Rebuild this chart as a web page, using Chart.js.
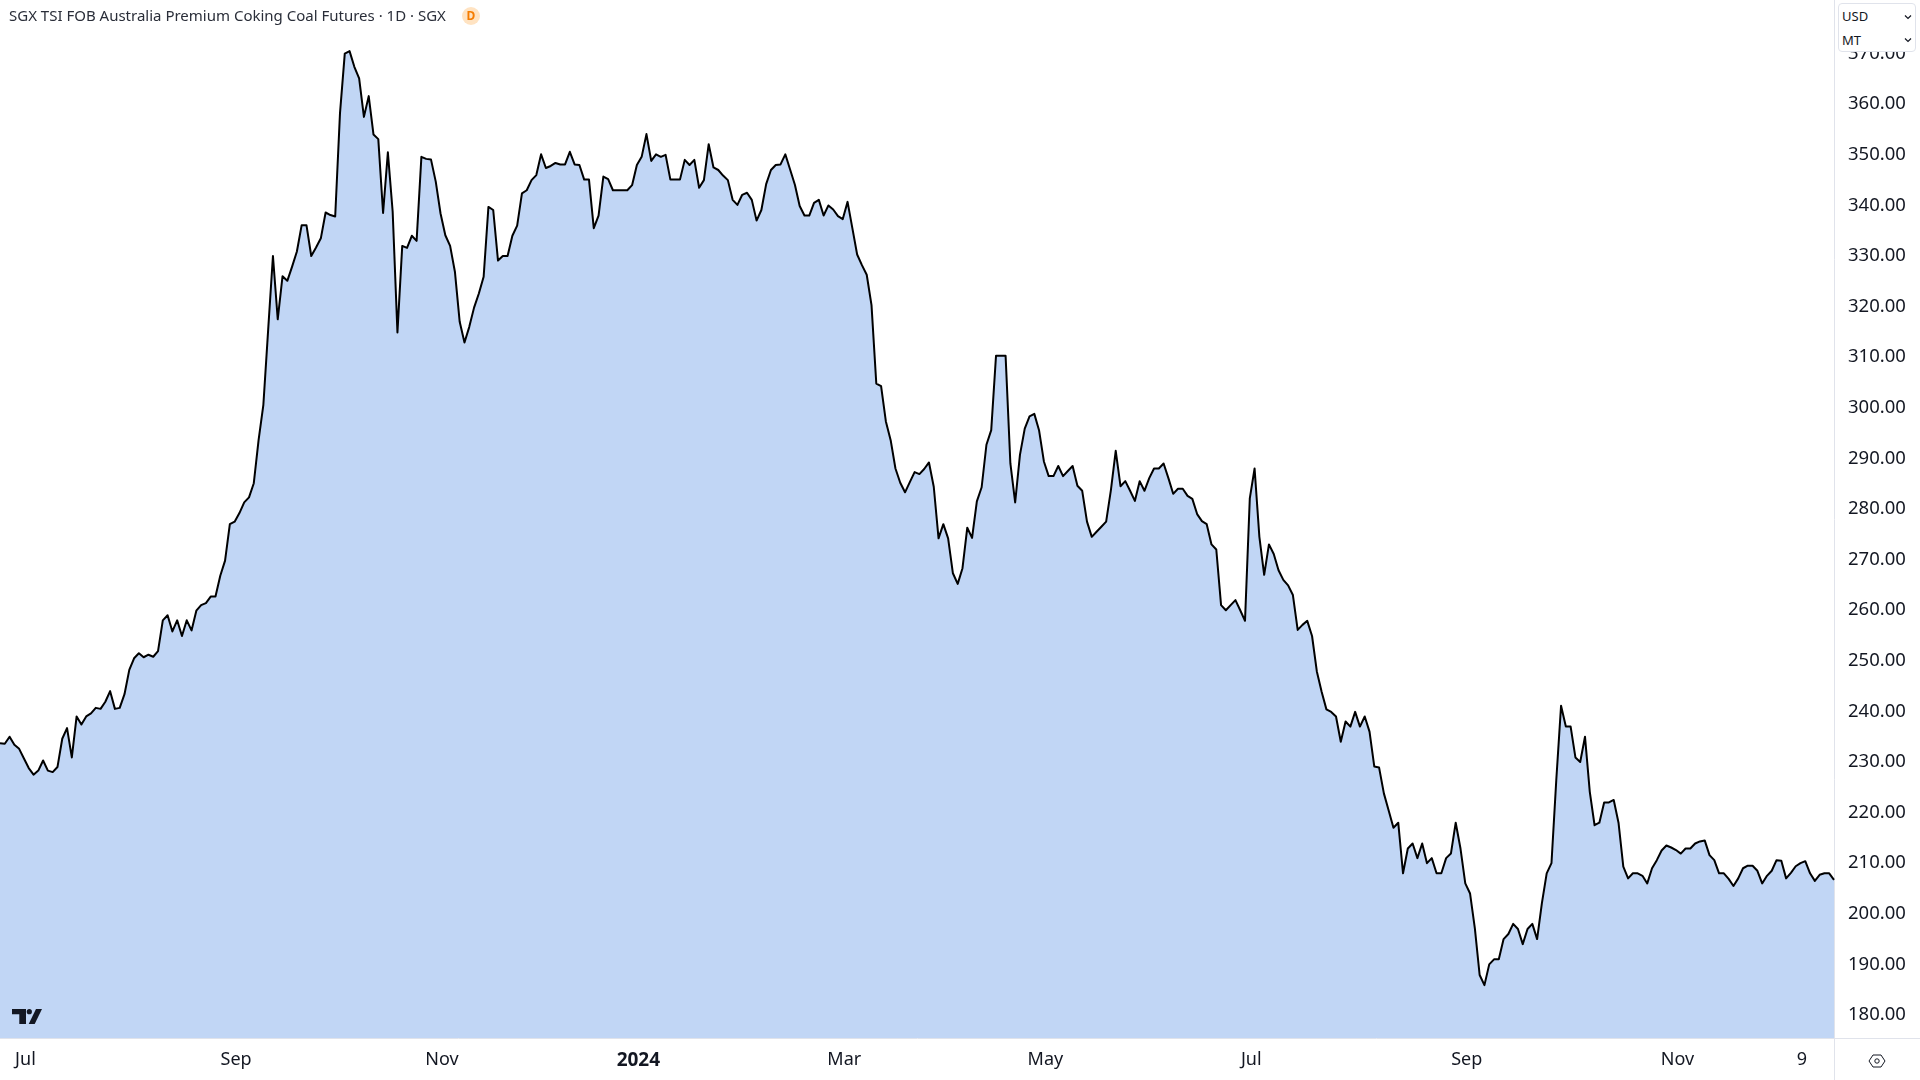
<!DOCTYPE html>
<html>
<head>
<meta charset="utf-8">
<title>SGX TSI FOB Australia Premium Coking Coal Futures</title>
<script src="https://cdn.jsdelivr.net/npm/chart.js@4"></script>
<style>
    html, body { margin: 0; padding: 0; background: #fff; }
    body { width: 1920px; height: 1080px; position: relative; overflow: hidden; font-family: "Noto Sans", sans-serif; color: #131722; }
    #chart-box { position: absolute; left: 0; top: 0; width: 1920px; height: 1080px; }
    .title { position: absolute; left: 9px; top: 3px; font-size: 15px; line-height: 24px; white-space: nowrap; color: #2a2e39; }
    .badge { position: absolute; left: 462px; top: 7px; width: 18px; height: 18px; border-radius: 50%; background: #ffe3c2; color: #f57c00; font-size: 12px; font-weight: 700; line-height: 18px; text-align: center; }
    .units { position: absolute; left: 1838px; top: 3px; width: 76px; height: 47px; background: #fff; border: 1px solid #e0e3eb; border-radius: 4px; font-size: 13px; }
    .units div { position: absolute; left: 3px; line-height: 20px; }
    .units svg { position: absolute; right: 3px; }
    .line-v { position: absolute; left: 1834px; top: 1038px; width: 1px; height: 42px; background: #e0e3eb; }
    .line-h { position: absolute; left: 1834px; top: 1038px; width: 86px; height: 1px; background: #e0e3eb; }
    .logo { position: absolute; left: 12px; top: 1009px; }
    .settings { position: absolute; left: 1868px; top: 1052px; }
</style>
</head>
<body>
<div id="chart-box"><canvas id="coalChart" width="1920" height="1080"></canvas></div>
<div class="title">SGX TSI FOB Australia Premium Coking Coal Futures · 1D · SGX</div>
<div class="badge">D</div>
<div class="units">
    <div style="top:2px">USD</div>
    <svg style="top:10px" width="8" height="6" viewBox="0 0 8 6"><path d="M1 1.5l3 3 3-3" fill="none" stroke="#131722" stroke-width="1.2"/></svg>
    <div style="top:26px">MT</div>
    <svg style="top:33px" width="8" height="6" viewBox="0 0 8 6"><path d="M1 1.5l3 3 3-3" fill="none" stroke="#131722" stroke-width="1.2"/></svg>
</div>
<div class="line-v"></div>
<div class="line-h"></div>
<svg class="logo" width="30" height="15" viewBox="0 0 30 15">
    <path d="M0 0h14v15H7.3V5.3H0z" fill="#131722"/>
    <circle cx="17.3" cy="2.7" r="2.6" fill="#131722"/>
    <path d="M24 0h6l-7.3 15h-6z" fill="#131722"/>
</svg>
<svg class="settings" width="18" height="18" viewBox="0 0 18 18">
    <path d="M5 3h8l4 6-4 6H5L1 9z" fill="none" stroke="#131722" stroke-width="1"/>
    <circle cx="9" cy="9" r="2.2" fill="none" stroke="#131722" stroke-width="1"/>
</svg>

<script>
// Cierres diarios (USD/MT)
const prices = [
    233.7, 233.6, 235.0, 233.4, 232.6, 230.7, 228.8, 227.5, 228.3, 230.3, 228.3, 228.0, 229.0, 234.6, 236.7, 230.9,
    239.0, 237.4, 239.0, 239.6, 240.7, 240.5, 241.9, 244.0, 240.5, 240.7, 243.4, 248.2, 250.5, 251.5, 250.7, 251.2,
    250.8, 251.9, 258.0, 259.0, 255.8, 258.0, 254.9, 258.0, 256.0, 259.9, 261.0, 261.4, 262.7, 262.7, 266.8, 269.8,
    277.0, 277.5, 279.2, 281.3, 282.3, 285.1, 293.6, 300.6, 315.4, 330.0, 317.5, 326.0, 325.1, 327.9, 330.9, 336.1,
    336.1, 330.0, 331.7, 333.5, 338.6, 338.1, 337.8, 358.2, 370.0, 370.5, 367.4, 365.1, 357.5, 361.6, 354.0, 353.1,
    338.5, 350.5, 338.8, 314.9, 332.0, 331.6, 334.0, 333.0, 349.6, 349.2, 349.1, 344.7, 338.4, 334.1, 332.0, 326.9,
    317.0, 312.9, 316.0, 319.8, 322.6, 325.9, 339.7, 339.1, 329.1, 330.0, 330.0, 334.0, 336.0, 342.4, 343.0, 345.0,
    346.0, 350.1, 347.4, 347.8, 348.4, 348.1, 348.1, 350.6, 348.1, 348.0, 345.1, 345.1, 335.5, 338.0, 345.7, 345.2,
    343.0, 343.0, 343.0, 343.0, 344.0, 348.0, 349.6, 354.1, 348.8, 350.1, 349.6, 350.0, 345.1, 345.1, 345.1, 349.0,
    348.0, 349.0, 343.5, 345.0, 352.1, 347.5, 347.0, 345.9, 345.0, 341.1, 340.1, 342.1, 342.5, 341.1, 337.0, 339.1,
    344.2, 347.0, 348.0, 348.1, 350.1, 347.1, 344.1, 339.9, 338.0, 338.0, 340.5, 341.1, 338.0, 340.0, 339.2, 337.9,
    337.3, 340.7, 335.5, 330.3, 328.2, 326.3, 320.3, 304.8, 304.3, 297.3, 293.6, 288.0, 285.2, 283.3, 285.3, 287.3,
    286.9, 287.9, 289.2, 284.4, 274.2, 277.0, 274.2, 267.3, 265.2, 268.3, 276.3, 274.3, 281.5, 284.3, 292.7, 295.6,
    310.3, 310.3, 310.3, 289.0, 281.3, 290.7, 295.9, 298.3, 298.8, 295.5, 289.4, 286.5, 286.5, 288.5, 286.5, 287.5,
    288.5, 284.6, 283.6, 277.5, 274.5, 275.5, 276.5, 277.5, 283.8, 291.5, 284.5, 285.5, 283.6, 281.6, 285.5, 283.6,
    286.1, 288.0, 288.0, 289.0, 286.1, 283.0, 284.0, 284.0, 282.6, 282.0, 279.0, 277.6, 277.0, 273.0, 272.0, 261.0,
    260.0, 261.0, 262.0, 260.0, 257.9, 282.1, 288.0, 274.5, 267.0, 273.0, 271.1, 267.9, 266.0, 264.9, 263.0, 256.1,
    257.1, 257.9, 254.9, 247.9, 243.9, 240.4, 239.9, 239.0, 234.0, 238.0, 237.0, 239.9, 237.0, 239.0, 236.0, 229.1,
    228.9, 223.8, 220.4, 217.0, 218.0, 208.0, 212.9, 213.9, 211.0, 213.9, 210.0, 211.0, 208.0, 208.0, 211.0, 211.9,
    218.0, 212.9, 206.0, 204.0, 197.1, 187.9, 185.9, 190.0, 191.0, 191.0, 195.0, 196.0, 198.0, 197.0, 194.0, 197.0,
    198.0, 195.0, 202.1, 208.0, 210.0, 226.4, 241.1, 237.0, 237.0, 230.9, 230.0, 235.0, 224.1, 217.5, 218.0, 222.0,
    222.0, 222.5, 218.0, 209.3, 207.0, 208.0, 208.0, 207.5, 206.0, 209.0, 210.6, 212.5, 213.5, 213.1, 212.6, 211.9,
    212.9, 212.9, 213.9, 214.3, 214.5, 211.6, 210.6, 208.0, 208.0, 206.9, 205.5, 207.0, 209.0, 209.5, 209.5, 208.5,
    206.0, 207.5, 208.5, 210.6, 210.5, 207.0, 208.1, 209.4, 210.0, 210.4, 208.0, 206.5, 207.7, 208.0, 208.0, 206.7
];

// Una sesion por punto; el eje muestra solo las marcas de abajo
const sessions = prices.map((_, i) => i);
const xTickIndex = [5, 49, 92, 133, 176, 218, 261, 306, 350, 376];
const xTickLabels = ['Jul', 'Sep', 'Nov', '2024', 'Mar', 'May', 'Jul', 'Sep', 'Nov', '9'];
const yTicks = [180, 190, 200, 210, 220, 230, 240, 250, 260, 270, 280, 290, 300, 310, 320, 330, 340, 350, 360, 370];

// 5.06 px por dolar, con el area del grafico de 0 a 1038 px
const yMin = 175.45;
const yMax = 380.6;

const fontFamily = '"Noto Sans", sans-serif';
const borderColor = '#e0e3eb';
const textColor = '#131722';

new Chart(document.getElementById('coalChart').getContext('2d'), {
    type: 'line',
    data: {
        labels: sessions,
        datasets: [{
            data: prices,
            borderColor: '#000000',
            borderWidth: 2,
            backgroundColor: '#c1d6f5',
            fill: 'start',
            tension: 0,
            pointRadius: 0,
            borderJoinStyle: 'round'
        }]
    },
    options: {
        responsive: false,
        animation: false,
        layout: { padding: 0 },
        plugins: {
            legend: { display: false },
            tooltip: { enabled: false }
        },
        scales: {
            x: {
                type: 'category',
                offset: false,
                grid: { display: false },
                border: { color: borderColor },
                afterBuildTicks: scale => {
                    scale.ticks = xTickIndex.map(i => ({ value: i }));
                },
                afterFit: scale => {
                    scale.height = 42;
                    scale.paddingLeft = 0;
                    scale.paddingRight = 0;
                },
                ticks: {
                    autoSkip: false,
                    maxRotation: 0,
                    padding: 3,
                    labelOffset: 1.5,
                    color: textColor,
                    font: ctx => ({
                        family: fontFamily,
                        size: xTickLabels[ctx.index] === '2024' ? 19 : 18,
                        weight: xTickLabels[ctx.index] === '2024' ? 'bold' : 'normal'
                    }),
                    callback: (value, index) => xTickLabels[index]
                }
            },
            y: {
                position: 'right',
                min: yMin,
                max: yMax,
                grid: { display: false },
                border: { color: borderColor },
                afterBuildTicks: scale => {
                    scale.ticks = yTicks.map(v => ({ value: v }));
                },
                afterFit: scale => {
                    scale.width = 86;
                    scale.paddingTop = 0;
                    scale.paddingBottom = 0;
                },
                ticks: {
                    padding: 6,
                    color: textColor,
                    font: { family: fontFamily, size: 18.5 },
                    callback: value => value.toFixed(2)
                }
            }
        }
    }
});
</script>
</body>
</html>
